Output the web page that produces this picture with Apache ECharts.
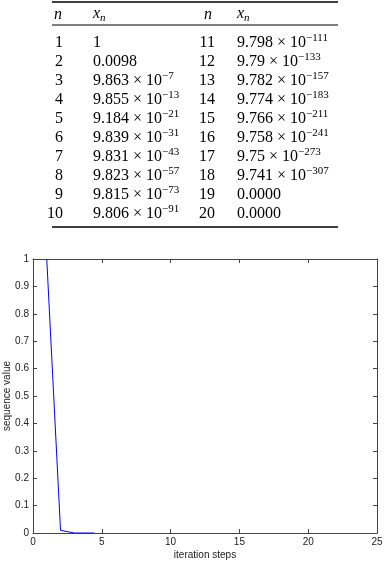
<!DOCTYPE html>
<html><head><meta charset="utf-8">
<script src="https://cdn.jsdelivr.net/npm/echarts@6/dist/echarts.min.js"></script>
<style>html,body{margin:0;padding:0;background:#fff}#c{width:386px;height:562px}</style>
</head><body><div id="c"></div>
<script>
// ---- table data ----
var nLeft = [1,2,3,4,5,6,7,8,9,10];
var mantLeft = ['1','0.0098','9.863','9.855','9.184','9.839','9.831','9.823','9.815','9.806'];
var expLeft = [null,null,-7,-13,-21,-31,-43,-57,-73,-91];
var nRight = [11,12,13,14,15,16,17,18,19,20];
var mantRight = ['9.798','9.79','9.782','9.774','9.766','9.758','9.75','9.741','0.0000','0.0000'];
var expRight = [-111,-133,-157,-183,-211,-241,-273,-307,null,null];
// ---- plot data ----
var plotSteps = [1,2,3,4,4.45];
var plotValues = [1,0.0098,9.863e-7,9.855e-13,0];
var xTicks = [0,5,10,15,20,25];
var yTicks = [0,0.1,0.2,0.3,0.4,0.5,0.6,0.7,0.8,0.9,1];

var serif = '"Liberation Serif", "DejaVu Serif", serif';
var sans = '"Liberation Sans", Arial, sans-serif';
var rich = {
  m:{fontFamily:serif,fontSize:16,color:'#000',lineHeight:18,verticalAlign:'bottom'},
  s:{fontFamily:serif,fontSize:11,color:'#000',lineHeight:18,verticalAlign:'top'}
};
function valText(m,e){
  if(e===null) return '{m|'+m+'}';
  return '{m|'+m+' \u00d7 10}{s|\u2212'+Math.abs(e)+'}';
}
var g = [];
function rule(y,w){ g.push({type:'line',shape:{x1:52,y1:y,x2:338,y2:y},style:{stroke:'#000',lineWidth:w},silent:true}); }
rule(2,1.3); rule(25,1); rule(227,1.3);
function txt(x,y,t,align){
  g.push({type:'text',x:x,y:y,style:{text:t,rich:rich,align:align,verticalAlign:'middle',fontFamily:serif,fontSize:16,fill:'#000'},silent:true});
}
var hdrRich = {x:{fontFamily:serif,fontSize:16,fontStyle:'italic',lineHeight:18,verticalAlign:'top'},sub:{fontFamily:serif,fontSize:11,fontStyle:'italic',lineHeight:18,verticalAlign:'bottom'}};
var hdrY = 15;
g.push({type:'text',x:54,y:hdrY,style:{text:'n',fontFamily:serif,fontSize:16,fontStyle:'italic',fill:'#000',verticalAlign:'middle'}});
g.push({type:'text',x:93,y:hdrY,style:{text:'{x|x}{sub|n}',rich:hdrRich,verticalAlign:'middle'}});
g.push({type:'text',x:204,y:hdrY,style:{text:'n',fontFamily:serif,fontSize:16,fontStyle:'italic',fill:'#000',verticalAlign:'middle'}});
g.push({type:'text',x:237,y:hdrY,style:{text:'{x|x}{sub|n}',rich:hdrRich,verticalAlign:'middle'}});
for(var i=0;i<nLeft.length;i++){
  var y = 42 + i*19;
  txt(63,y,'{m|'+nLeft[i]+'}','right');
  txt(93,y,valText(mantLeft[i],expLeft[i]),'left');
  txt(215,y,'{m|'+nRight[i]+'}','right');
  txt(237,y,valText(mantRight[i],expRight[i]),'left');
}

var axisCol = '#444';
var tickLab = {fontFamily:sans,fontSize:10,color:'#222'};
var pts = plotSteps.map(function(s,i){return [s,plotValues[i]];});
var option = {
  animation:false,
  grid:{left:33,right:9,top:259,bottom:29,containLabel:false,outerBoundsMode:'none'},
  graphic:g,
  xAxis:[{
    type:'value',min:0,max:25,interval:5,
    name:'iteration steps',nameLocation:'middle',nameGap:17,nameMoveOverlap:false,
    nameTextStyle:{fontFamily:sans,fontSize:10,color:'#222'},
    axisLine:{show:true,lineStyle:{color:axisCol,width:1}},
    axisTick:{show:true,inside:true,length:4,lineStyle:{color:axisCol}},
    axisLabel:Object.assign({margin:4},tickLab),
    splitLine:{show:false}
  },{
    type:'value',position:'top',min:0,max:25,interval:5,
    axisLine:{show:true,onZero:false,lineStyle:{color:axisCol,width:1}},
    axisTick:{show:true,inside:true,length:4,lineStyle:{color:axisCol}},
    axisLabel:{show:false},splitLine:{show:false}
  }],
  yAxis:[{
    type:'value',min:0,max:1,interval:0.1,
    name:'sequence value',nameLocation:'middle',nameGap:21,nameMoveOverlap:false,
    nameTextStyle:{fontFamily:sans,fontSize:10,color:'#222'},
    axisLine:{show:true,lineStyle:{color:axisCol,width:1}},
    axisTick:{show:true,inside:true,length:4,lineStyle:{color:axisCol}},
    axisLabel:Object.assign({margin:4,formatter:function(v){return String(+v.toFixed(1));}},tickLab),
    splitLine:{show:false}
  },{
    type:'value',position:'right',min:0,max:1,interval:0.1,
    axisLine:{show:true,onZero:false,lineStyle:{color:axisCol,width:1}},
    axisTick:{show:true,inside:true,length:4,lineStyle:{color:axisCol}},
    axisLabel:{show:false},splitLine:{show:false}
  }],
  series:[{
    type:'line',data:pts,showSymbol:false,symbol:'none',
    lineStyle:{color:'#0000ff',width:1},
    xAxisIndex:0,yAxisIndex:0
  }]
};
var chart = echarts.init(document.getElementById('c'),null,{renderer:'canvas'});
chart.setOption(option);
</script></body></html>
